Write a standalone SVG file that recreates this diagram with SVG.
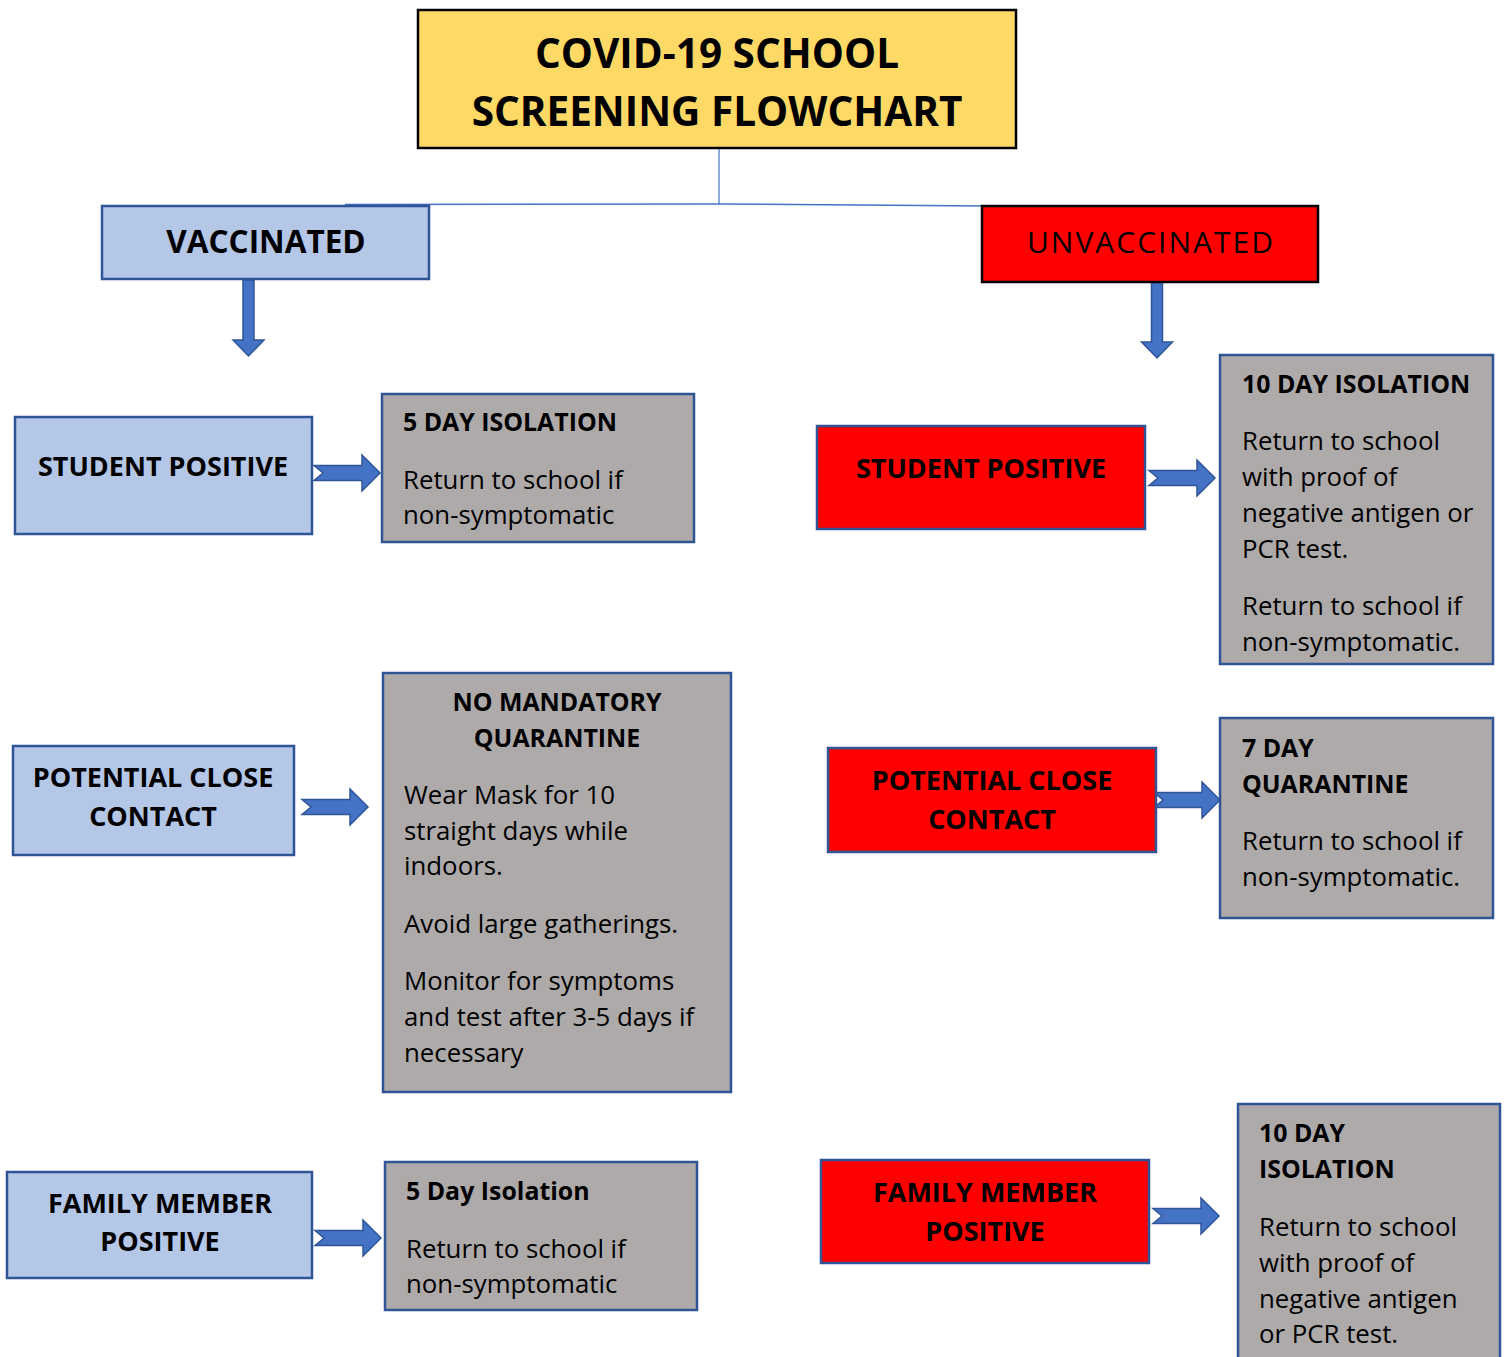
<svg xmlns="http://www.w3.org/2000/svg" xmlns:xlink="http://www.w3.org/1999/xlink" width="1506" height="1357" viewBox="0 0 1506 1357">
<defs>
<style>
.blue{fill:#B4C7E7;stroke:#2F5597;stroke-width:2.5}
.red{fill:#FF0000;stroke:#2F5597;stroke-width:2.5}
.redk{fill:#FF0000;stroke:#000;stroke-width:2.5}
.gray{fill:#AEAAAA;stroke:#2F5597;stroke-width:2.5}
.hd{font-family:"Open Sans","Liberation Sans",sans-serif;font-weight:bold;fill:#000}
.lb{font-size:27px}
.gh{font-size:24.9px}
.bd{font-family:"Open Sans","Liberation Sans",sans-serif;font-size:25.8px;fill:#000}
.c{text-anchor:middle}
.arr{fill:#4472C4;stroke:#2F5597;stroke-width:1.5}
</style>
<path id="ra" d="M0,-7.5 L48,-7.5 L48,-18 L66,0 L48,18 L48,7.5 L0,7.5 L9,0 Z"/>
<path id="da" d="M-5.5,0 L5.5,0 L5.5,60 L15.5,60 L0,76 L-15.5,60 L-5.5,60 Z"/>
</defs>
<rect width="1506" height="1357" fill="#fff"/>

<g id="connectors">
<line x1="719" y1="149" x2="719" y2="204" stroke="#4472C4" stroke-width="1.2"/>
<path d="M345,204.5 L719,204 L985,206" fill="none" stroke="#4472C4" stroke-width="1.5"/>
<use href="#da" x="248.5" y="280" class="arr"/>
<use href="#da" x="1157" y="282" class="arr"/>
<use href="#ra" x="314" y="473" class="arr"/>
<use href="#ra" x="302" y="807" class="arr"/>
<use href="#ra" x="315" y="1238" class="arr"/>
<use href="#ra" x="1149" y="478" class="arr"/>
<use href="#ra" x="1154" y="800" class="arr"/>
<use href="#ra" x="1153" y="1216" class="arr"/>
</g>

<g id="title">
<rect x="418" y="10" width="598" height="138" fill="#FFD966" stroke="#000" stroke-width="2.5"/>
<text class="hd c" x="717" y="68" font-size="40.5">COVID-19 SCHOOL</text>
<text class="hd c" x="717" y="126" font-size="40.5">SCREENING FLOWCHART</text>
</g>

<g id="vaccinated">
<rect class="blue" x="102" y="206" width="327" height="73"/>
<text class="hd c" x="266" y="253" font-size="31.5">VACCINATED</text>
</g>

<g id="unvaccinated">
<rect class="redk" x="982" y="206" width="336" height="76"/>
<text class="c" x="1151" y="253" font-family="'Open Sans','Liberation Sans',sans-serif" font-size="30" letter-spacing="2" fill="#000">UNVACCINATED</text>
</g>

<g id="v-student-positive">
<rect class="blue" x="15" y="417" width="297" height="117"/>
<text class="hd lb c" x="163" y="476">STUDENT POSITIVE</text>
</g>

<g id="v-5day-isolation">
<rect class="gray" x="382" y="394" width="312" height="148"/>
<text class="hd gh" x="403" y="431">5 DAY ISOLATION</text>
<text class="bd" x="403" y="489">Return to school if</text>
<text class="bd" x="403" y="524">non-symptomatic</text>
</g>

<g id="v-close-contact">
<rect class="blue" x="13" y="746" width="281" height="109"/>
<text class="hd lb c" x="153" y="787">POTENTIAL CLOSE</text>
<text class="hd lb c" x="153" y="826">CONTACT</text>
</g>

<g id="v-no-quarantine">
<rect class="gray" x="383" y="673" width="348" height="419"/>
<text class="hd gh c" x="557" y="711">NO MANDATORY</text>
<text class="hd gh c" x="557" y="747">QUARANTINE</text>
<text class="bd" x="404" y="804">Wear Mask for 10</text>
<text class="bd" x="404" y="840">straight days while</text>
<text class="bd" x="404" y="875">indoors.</text>
<text class="bd" x="404" y="933">Avoid large gatherings.</text>
<text class="bd" x="404" y="990">Monitor for symptoms</text>
<text class="bd" x="404" y="1026">and test after 3-5 days if</text>
<text class="bd" x="404" y="1062">necessary</text>
</g>

<g id="v-family-positive">
<rect class="blue" x="7" y="1172" width="305" height="106"/>
<text class="hd lb c" x="160" y="1213">FAMILY MEMBER</text>
<text class="hd lb c" x="160" y="1251">POSITIVE</text>
</g>

<g id="v-family-isolation">
<rect class="gray" x="385" y="1162" width="312" height="148"/>
<text class="hd gh" x="406" y="1200">5 Day Isolation</text>
<text class="bd" x="406" y="1258">Return to school if</text>
<text class="bd" x="406" y="1293">non-symptomatic</text>
</g>

<g id="u-student-positive">
<rect class="red" x="817" y="426" width="328" height="103"/>
<text class="hd lb c" x="981" y="478">STUDENT POSITIVE</text>
</g>

<g id="u-10day-isolation">
<rect class="gray" x="1220" y="355" width="273" height="309"/>
<text class="hd gh" x="1242" y="393">10 DAY ISOLATION</text>
<text class="bd" x="1242" y="450">Return to school</text>
<text class="bd" x="1242" y="486">with proof of</text>
<text class="bd" x="1242" y="522">negative antigen or</text>
<text class="bd" x="1242" y="558">PCR test.</text>
<text class="bd" x="1242" y="615">Return to school if</text>
<text class="bd" x="1242" y="651">non-symptomatic.</text>
</g>

<g id="u-close-contact">
<rect class="red" x="828" y="748" width="328" height="104"/>
<text class="hd lb c" x="992" y="790">POTENTIAL CLOSE</text>
<text class="hd lb c" x="992" y="829">CONTACT</text>
</g>

<g id="u-7day-quarantine">
<rect class="gray" x="1220" y="718" width="273" height="200"/>
<text class="hd gh" x="1242" y="757">7 DAY</text>
<text class="hd gh" x="1242" y="793">QUARANTINE</text>
<text class="bd" x="1242" y="850">Return to school if</text>
<text class="bd" x="1242" y="886">non-symptomatic.</text>
</g>

<g id="u-family-positive">
<rect class="red" x="821" y="1160" width="328" height="103"/>
<text class="hd lb c" x="985" y="1202">FAMILY MEMBER</text>
<text class="hd lb c" x="985" y="1241">POSITIVE</text>
</g>

<g id="u-10day-isolation-2">
<rect class="gray" x="1238" y="1104" width="262" height="270"/>
<text class="hd gh" x="1259" y="1142">10 DAY</text>
<text class="hd gh" x="1259" y="1178">ISOLATION</text>
<text class="bd" x="1259" y="1236">Return to school</text>
<text class="bd" x="1259" y="1272">with proof of</text>
<text class="bd" x="1259" y="1308">negative antigen</text>
<text class="bd" x="1259" y="1343">or PCR test.</text>
</g>
</svg>
